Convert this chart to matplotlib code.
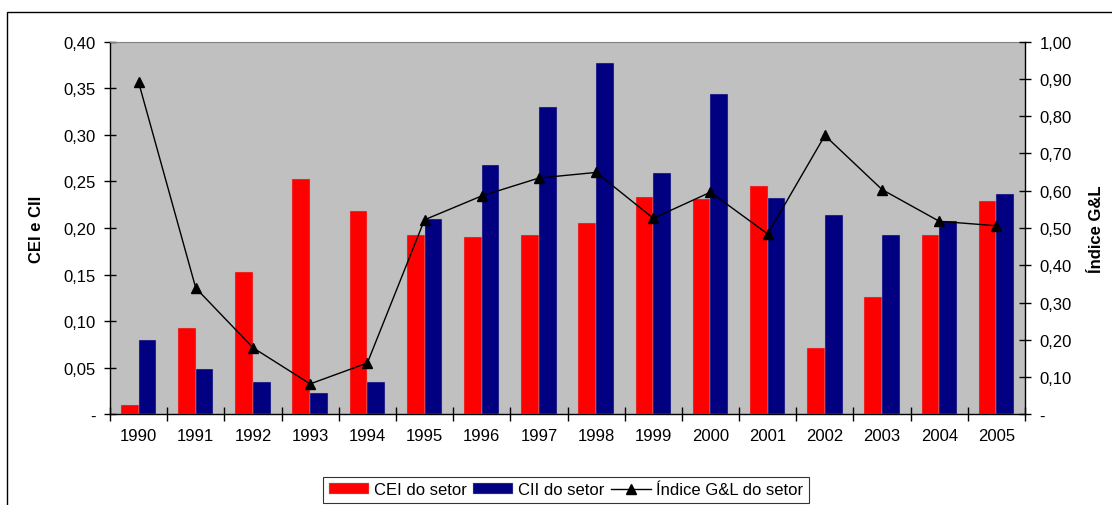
import numpy as np
import matplotlib.pyplot as plt
from matplotlib.patches import Rectangle

plt.rcParams['font.family'] = ['Liberation Sans', 'DejaVu Sans']

# Data
years = ['1990', '1991', '1992', '1993', '1994', '1995', '1996', '1997',
         '1998', '1999', '2000', '2001', '2002', '2003', '2004', '2005']
cei = [0.010, 0.093, 0.153, 0.253, 0.218, 0.192, 0.190, 0.192,
       0.205, 0.233, 0.231, 0.245, 0.071, 0.126, 0.192, 0.229]
cii = [0.080, 0.049, 0.035, 0.023, 0.035, 0.210, 0.268, 0.330,
       0.377, 0.259, 0.344, 0.232, 0.214, 0.192, 0.207, 0.236]
gl = [0.891, 0.339, 0.179, 0.082, 0.138, 0.522, 0.586, 0.634,
      0.649, 0.526, 0.596, 0.484, 0.748, 0.603, 0.518, 0.506]

left_ticks = [0, 0.05, 0.10, 0.15, 0.20, 0.25, 0.30, 0.35, 0.40]
left_labels = ['-', '0,05', '0,10', '0,15', '0,20', '0,25', '0,30', '0,35', '0,40']
right_ticks = [0, 0.1, 0.2, 0.3, 0.4, 0.5, 0.6, 0.7, 0.8, 0.9, 1.0]
right_labels = ['-', '0,10', '0,20', '0,30', '0,40', '0,50', '0,60', '0,70',
                '0,80', '0,90', '1,00']

fs = 12

fig = plt.figure(figsize=(11.12, 5.06), dpi=100)
ax = fig.add_axes([0.0989, 0.1789, 0.8229, 0.7371])
ax.set_facecolor('#C0C0C0')

x = np.arange(len(years))
w = 0.31
b1 = ax.bar(x - w / 2, cei, w, color='#FF0000', edgecolor='#B0B0B0', linewidth=0.3,
            label='CEI do setor', zorder=2)
b2 = ax.bar(x + w / 2, cii, w, color='#000080', edgecolor='#B0B0B0', linewidth=0.3,
            label='CII do setor', zorder=2)

ax.set_xlim(-0.5, len(years) - 0.5)
ax.set_ylim(0, 0.40)
ax.set_yticks(left_ticks)
ax.set_yticklabels(left_labels)
ax.set_xticks(x)
ax.set_xticklabels(years)
ax.set_xticks(np.arange(-0.5, len(years)), minor=True)
ax.tick_params(axis='x', which='major', length=0, pad=10, labelsize=fs)
ax.tick_params(axis='x', which='minor', direction='inout', length=10, width=1)
ax.tick_params(axis='y', direction='inout', length=9, width=1, labelsize=fs, pad=6)
ax.set_ylabel('CEI e CII', fontsize=fs, fontweight='bold', labelpad=14)

for s in ['left', 'bottom']:
    ax.spines[s].set_color('black')
    ax.spines[s].set_linewidth(1)
ax.spines['top'].set_color('#808080')
ax.spines['right'].set_visible(False)

ax2 = ax.twinx()
ln, = ax2.plot(x, gl, color='black', linewidth=1, marker='^', markersize=7,
               label='Índice G&L do setor', zorder=3)
ax2.set_ylim(0, 1.0)
ax2.set_yticks(right_ticks)
ax2.set_yticklabels(right_labels)
ax2.tick_params(axis='y', direction='inout', length=9, width=1, labelsize=fs, pad=6)
ax2.set_ylabel('Índice G&L', fontsize=fs, fontweight='bold', labelpad=12)
ax2.spines['right'].set_color('black')
ax2.spines['right'].set_linewidth(1)
for s in ['left', 'top', 'bottom']:
    ax2.spines[s].set_visible(False)

leg = fig.legend(handles=[b1, b2, ln], loc='lower center', bbox_to_anchor=(0.509, 0.0),
                 ncol=3, fontsize=fs, frameon=True, fancybox=False, edgecolor='black',
                 handlelength=2.4, handleheight=0.6, handletextpad=0.3, columnspacing=0.4,
                 borderpad=0.35, borderaxespad=0.1)
leg.get_frame().set_linewidth(0.8)

# outer chart frame
fig.patches.append(Rectangle((7 / 1112, -0.1), 1.2, 1.0743, transform=fig.transFigure,
                             fill=False, edgecolor='black', linewidth=1))

fig.savefig('out.png', dpi=100)
